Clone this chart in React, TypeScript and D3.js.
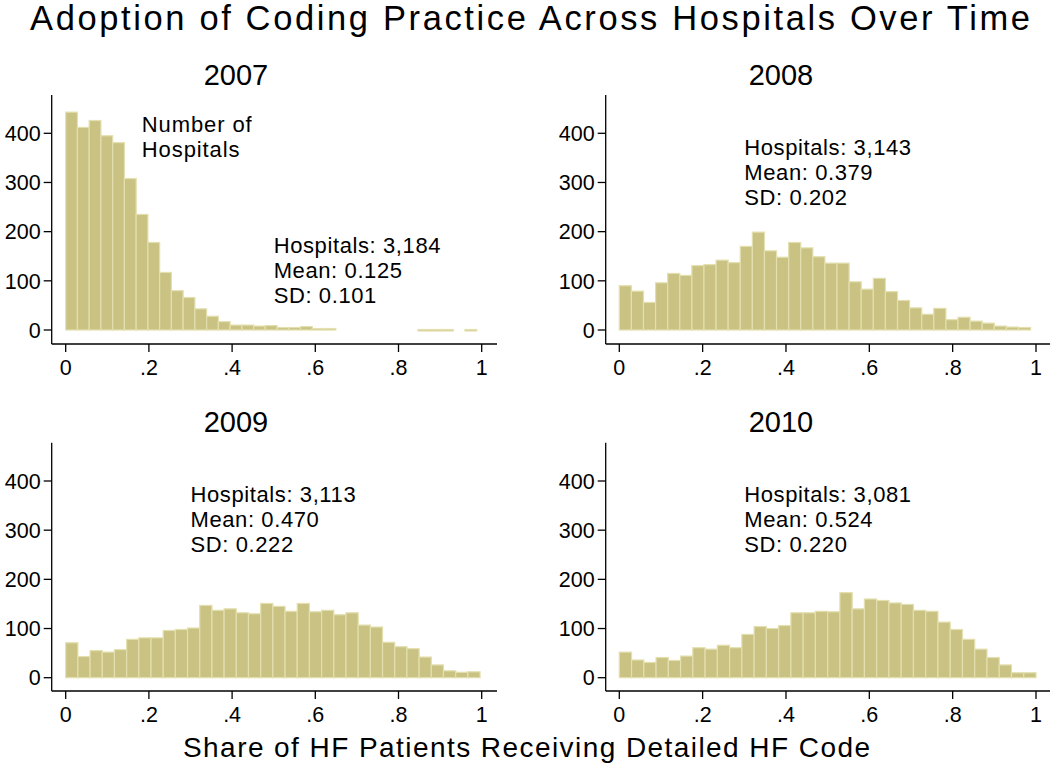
import React from "react";
import * as d3 from "d3";

const years = ["2007", "2008", "2009", "2010"];
const counts2007 = [443, 412, 426, 395, 381, 308, 235, 178, 117, 80, 66, 43, 28, 17, 10, 10, 8, 9, 5, 5, 7, 3, 3, 0, 0, 0, 0, 0, 0, 0, 1, 1, 1, 0, 1];
const counts2008 = [90, 79, 56, 96, 115, 111, 131, 133, 142, 137, 170, 199, 161, 148, 178, 167, 149, 136, 136, 98, 83, 105, 78, 60, 45, 32, 44, 21, 26, 18, 14, 8, 6, 5];
const counts2009 = [71, 43, 55, 52, 57, 78, 81, 81, 96, 98, 101, 147, 137, 140, 132, 130, 151, 145, 135, 151, 134, 137, 128, 132, 107, 103, 72, 63, 59, 42, 26, 14, 11, 12];
const counts2010 = [52, 36, 31, 41, 35, 44, 61, 58, 66, 61, 88, 104, 100, 106, 132, 132, 135, 134, 173, 140, 160, 157, 152, 149, 137, 135, 113, 98, 78, 58, 41, 26, 10, 10];
const allCounts = [counts2007, counts2008, counts2009, counts2010];
const maxShare = [0.988, 0.987, 0.996, 1.0];
const hospitals = ["3,184", "3,143", "3,113", "3,081"];
const means = ["0.125", "0.379", "0.470", "0.524"];
const sds = ["0.101", "0.202", "0.222", "0.220"];
const statsX = [0.5, 0.3, 0.3, 0.3];
const statsY = [157, 356, 358, 358];
const xTicks = [0, 0.2, 0.4, 0.6, 0.8, 1];
const xTickLabels = ["0", ".2", ".4", ".6", ".8", "1"];
const yTicks = [0, 100, 200, 300, 400];

const FONT = "'Liberation Sans', Arial, sans-serif";
const FILL = "#c9c283";
const EDGE = "#e3dfae";

const layout = [
  { left: 51.7, right: 497, x0: 65.7, x1: 481.7, top: 95, base: 330, axisY: 344, titleX: 236, titleY: 85 },
  { left: 605.7, right: 1050, x0: 619.3, x1: 1036, top: 95, base: 330, axisY: 344, titleX: 781, titleY: 85 },
  { left: 51.7, right: 497, x0: 65.7, x1: 481.7, top: 442.7, base: 677.7, axisY: 691, titleX: 236, titleY: 432 },
  { left: 605.7, right: 1050, x0: 619.3, x1: 1036, top: 442.7, base: 677.7, axisY: 691, titleX: 781, titleY: 432 },
];

function Panel({ idx }: { idx: number }) {
  const L = layout[idx];
  const counts = allCounts[idx];
  const x = d3.scaleLinear().domain([0, 1]).range([L.x0, L.x1]);
  const y = d3.scaleLinear().domain([0, 400]).range([L.base, L.base - 196.7]);
  const w = maxShare[idx] / counts.length;
  const bins = counts.map((c, i) => ({ a: i * w, b: (i + 1) * w, c }));
  return (
    <g>
      <text x={L.titleX} y={L.titleY} textAnchor="middle" fontSize={29} fontFamily={FONT}>{years[idx]}</text>
      {bins.filter((d) => d.c > 0).map((d, i) => (
        <rect key={i} x={x(d.a)} y={y(d.c)} width={x(d.b) - x(d.a)} height={Math.max(y(0) - y(d.c), 1.5)}
          fill={FILL} stroke={EDGE} strokeWidth={1.2} />
      ))}
      <line x1={L.left} x2={L.left} y1={L.top} y2={L.axisY} stroke="#000" strokeWidth={1.3} />
      <line x1={L.left} x2={L.right} y1={L.axisY} y2={L.axisY} stroke="#000" strokeWidth={1.3} />
      {yTicks.map((t) => (
        <g key={t}>
          <line x1={L.left - 8} x2={L.left} y1={y(t)} y2={y(t)} stroke="#000" strokeWidth={1.3} />
          <text x={L.left - 11} y={y(t)} dy="0.36em" textAnchor="end" fontSize={21.5} fontFamily={FONT}>{t}</text>
        </g>
      ))}
      {xTicks.map((t, i) => (
        <g key={t}>
          <line x1={x(t)} x2={x(t)} y1={L.axisY} y2={L.axisY + 8} stroke="#000" strokeWidth={1.3} />
          <text x={x(t)} y={L.axisY + 31} textAnchor="middle" fontSize={21.5} fontFamily={FONT}>{xTickLabels[i]}</text>
        </g>
      ))}
      <text x={x(statsX[idx])} y={y(statsY[idx])} fontSize={22} letterSpacing={0.6} fontFamily={FONT}>
        <tspan x={x(statsX[idx])} dy={0}>{`Hospitals: ${hospitals[idx]}`}</tspan>
        <tspan x={x(statsX[idx])} dy={25}>{`Mean: ${means[idx]}`}</tspan>
        <tspan x={x(statsX[idx])} dy={25}>{`SD: ${sds[idx]}`}</tspan>
      </text>
      {idx === 0 && (
        <text x={x(0.183)} y={y(403)} fontSize={22} letterSpacing={0.9} fontFamily={FONT}>
          <tspan x={x(0.183)} dy={0}>Number of</tspan>
          <tspan x={x(0.183)} dy={25}>Hospitals</tspan>
        </text>
      )}
    </g>
  );
}

export default function App() {
  return (
    <svg width={1050} height={772} style={{ position: "absolute", left: 0, top: 0, background: "#fff" }}>
      <rect width={1050} height={772} fill="#fff" />
      <text x={30} y={30} fontSize={34.5} fontFamily={FONT} textLength={1000} lengthAdjust="spacing">
        Adoption of Coding Practice Across Hospitals Over Time
      </text>
      {years.map((_, i) => <Panel key={i} idx={i} />)}
      <text x={183} y={757} fontSize={28} fontFamily={FONT} textLength={687} lengthAdjust="spacing">
        Share of HF Patients Receiving Detailed HF Code
      </text>
    </svg>
  );
}
